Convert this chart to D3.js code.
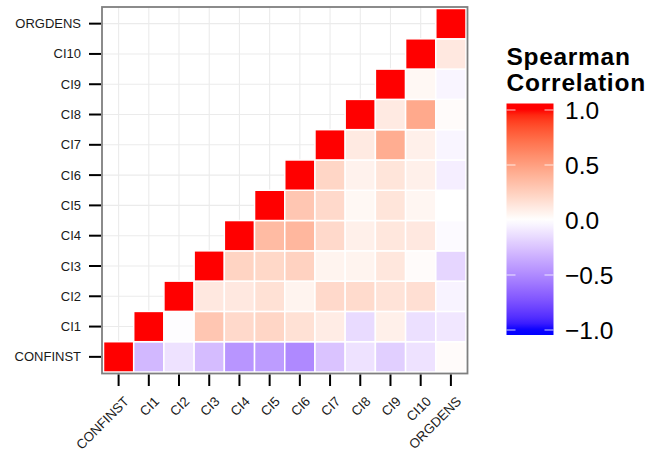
<!DOCTYPE html>
<html>
<head>
  <meta charset="utf-8">
  <title>Spearman correlation</title>
  <style>
    body { margin: 0; background: #fff; }
    text { font-family: "Liberation Sans", Arial, Helvetica, sans-serif; }
  </style>
</head>
<body>
<svg id="chart" width="652" height="451"></svg>
<script src="https://d3js.org/d3.v7.min.js"></script>
<script>
// variables, bottom to top on y, left to right on x
var vars = ["CONFINST", "CI1", "CI2", "CI3", "CI4", "CI5", "CI6", "CI7", "CI8", "CI9", "CI10", "ORGDENS"];

// one row per y variable; values start at the diagonal (x index == row index)
var rowCONFINST = [1, -0.30, -0.12, -0.28, -0.45, -0.42, -0.50, -0.25, -0.12, -0.20, -0.12, 0.02];
var rowCI1      = [1, -0.01, 0.30, 0.20, 0.22, 0.16, 0.10, -0.15, 0.08, -0.13, -0.10];
var rowCI2      = [1, 0.12, 0.12, 0.16, 0.06, 0.20, 0.19, 0.15, 0.17, -0.05];
var rowCI3      = [1, 0.23, 0.21, 0.24, 0.06, 0.06, 0.13, 0.02, -0.17];
var rowCI4      = [1, 0.36, 0.38, 0.20, 0.08, 0.13, 0.12, -0.02];
var rowCI5      = [1, 0.30, 0.20, 0.04, 0.14, 0.05, 0.00];
var rowCI6      = [1, 0.22, 0.07, 0.14, 0.08, -0.07];
var rowCI7      = [1, 0.11, 0.43, 0.08, -0.04];
var rowCI8      = [1, 0.11, 0.45, 0.02];
var rowCI9      = [1, 0.04, -0.04];
var rowCI10     = [1, 0.12];
var rowORGDENS  = [1];

var rows = [rowCONFINST, rowCI1, rowCI2, rowCI3, rowCI4, rowCI5, rowCI6,
            rowCI7, rowCI8, rowCI9, rowCI10, rowORGDENS];

var legendTicks = [1, 0.5, 0, -0.5, -1];

// flatten into cells
var cells = [];
rows.forEach(function (row, j) {
  row.forEach(function (v, k) {
    cells.push({ x: vars[j + k], y: vars[j], value: v });
  });
});

var svg = d3.select("#chart");

// panel
var panel = { left: 102, right: 467.5, top: 7, bottom: 373.5 };
var inset = 1.5;

var x = d3.scaleBand()
  .domain(vars)
  .range([panel.left + inset, panel.right - inset]);

var y = d3.scaleBand()
  .domain(vars)
  .range([panel.bottom - inset, panel.top + inset]);

var color = d3.scaleLinear()
  .domain([-1, 0, 1])
  .range(["blue", "white", "red"])
  .interpolate(d3.interpolateLab)
  .clamp(true);

svg.append("rect")
  .attr("x", panel.left).attr("y", panel.top)
  .attr("width", panel.right - panel.left)
  .attr("height", panel.bottom - panel.top)
  .attr("fill", "#fff");

// grid lines
var grid = svg.append("g");
grid.selectAll("line.vx")
  .data(vars).enter().append("line")
  .attr("x1", function (d) { return x(d) + x.bandwidth() / 2; })
  .attr("x2", function (d) { return x(d) + x.bandwidth() / 2; })
  .attr("y1", panel.top).attr("y2", panel.bottom)
  .attr("stroke", "#ebebeb").attr("stroke-width", 1.1);
grid.selectAll("line.hy")
  .data(vars).enter().append("line")
  .attr("y1", function (d) { return y(d) + y.bandwidth() / 2; })
  .attr("y2", function (d) { return y(d) + y.bandwidth() / 2; })
  .attr("x1", panel.left).attr("x2", panel.right)
  .attr("stroke", "#ebebeb").attr("stroke-width", 1.1);

// tiles
svg.append("g").selectAll("rect")
  .data(cells).enter().append("rect")
  .attr("x", function (d) { return x(d.x); })
  .attr("y", function (d) { return y(d.y); })
  .attr("width", x.bandwidth())
  .attr("height", y.bandwidth())
  .attr("fill", function (d) { return color(d.value); })
  .attr("stroke", "#fff")
  .attr("stroke-width", 1.5);

// panel border
svg.append("rect")
  .attr("x", panel.left).attr("y", panel.top)
  .attr("width", panel.right - panel.left)
  .attr("height", panel.bottom - panel.top)
  .attr("fill", "none")
  .attr("stroke", "#7f7f7f")
  .attr("stroke-width", 1.8);

// left axis
var yAxis = svg.append("g");
yAxis.selectAll("line")
  .data(vars).enter().append("line")
  .attr("x1", panel.left - 1 - 12).attr("x2", panel.left - 1)
  .attr("y1", function (d) { return y(d) + y.bandwidth() / 2; })
  .attr("y2", function (d) { return y(d) + y.bandwidth() / 2; })
  .attr("stroke", "#000").attr("stroke-width", 2);
yAxis.selectAll("text")
  .data(vars).enter().append("text")
  .attr("x", panel.left - 21)
  .attr("y", function (d) { return y(d) + y.bandwidth() / 2; })
  .attr("dy", "0.35em")
  .attr("text-anchor", "end")
  .attr("font-size", 13)
  .attr("fill", "#1a1a1a")
  .text(function (d) { return d; });

// bottom axis
var xAxis = svg.append("g");
xAxis.selectAll("line")
  .data(vars).enter().append("line")
  .attr("x1", function (d) { return x(d) + x.bandwidth() / 2; })
  .attr("x2", function (d) { return x(d) + x.bandwidth() / 2; })
  .attr("y1", panel.bottom + 1).attr("y2", panel.bottom + 12.5)
  .attr("stroke", "#000").attr("stroke-width", 2);
xAxis.selectAll("text")
  .data(vars).enter().append("text")
  .attr("transform", function (d) {
    return "translate(" + (x(d) + x.bandwidth() / 2 + 4.5) + "," + (panel.bottom + 22) + ") rotate(-45)";
  })
  .attr("dy", "0.71em")
  .attr("text-anchor", "end")
  .attr("font-size", 13.3)
  .attr("fill", "#1a1a1a")
  .text(function (d) { return d; });

// legend
var legend = { left: 506.5, width: 47, top: 103.5, bottom: 335 };
var ly = d3.scaleLinear().domain([-1, 1]).range([330, 110]);

svg.append("text")
  .attr("x", legend.left).attr("y", 64.5)
  .attr("font-size", 24.5).attr("font-weight", "bold")
  .attr("letter-spacing", 0.7)
  .text("Spearman");
svg.append("text")
  .attr("x", legend.left).attr("y", 91)
  .attr("font-size", 24.5).attr("font-weight", "bold")
  .attr("letter-spacing", 0.8)
  .text("Correlation");

var defs = svg.append("defs");
var grad = defs.append("linearGradient")
  .attr("id", "barGrad")
  .attr("x1", 0).attr("x2", 0).attr("y1", 0).attr("y2", 1);
d3.range(0, 41).forEach(function (i) {
  var t = i / 40;
  var v = ly.invert(legend.top + t * (legend.bottom - legend.top));
  grad.append("stop")
    .attr("offset", t)
    .attr("stop-color", color(v));
});

svg.append("rect")
  .attr("x", legend.left).attr("y", legend.top)
  .attr("width", legend.width)
  .attr("height", legend.bottom - legend.top)
  .attr("fill", "url(#barGrad)");

var lt = svg.append("g");
lt.selectAll("line.l")
  .data(legendTicks).enter().append("line")
  .attr("x1", legend.left).attr("x2", legend.left + 9)
  .attr("y1", function (d) { return ly(d); }).attr("y2", function (d) { return ly(d); })
  .attr("stroke", "#fff").attr("stroke-opacity", 0.8).attr("stroke-width", 1);
lt.selectAll("line.r")
  .data(legendTicks).enter().append("line")
  .attr("x1", legend.left + legend.width - 9).attr("x2", legend.left + legend.width)
  .attr("y1", function (d) { return ly(d); }).attr("y2", function (d) { return ly(d); })
  .attr("stroke", "#fff").attr("stroke-opacity", 0.8).attr("stroke-width", 1);
lt.selectAll("text")
  .data(legendTicks).enter().append("text")
  .attr("x", legend.left + legend.width + 11.5)
  .attr("y", function (d) { return ly(d); })
  .attr("dy", "0.36em")
  .attr("font-size", 24.5)
  .attr("fill", "#000")
  .text(function (d) { return d3.format(".1f")(d).replace("-", "\u2212"); });
</script>
</body>
</html>
